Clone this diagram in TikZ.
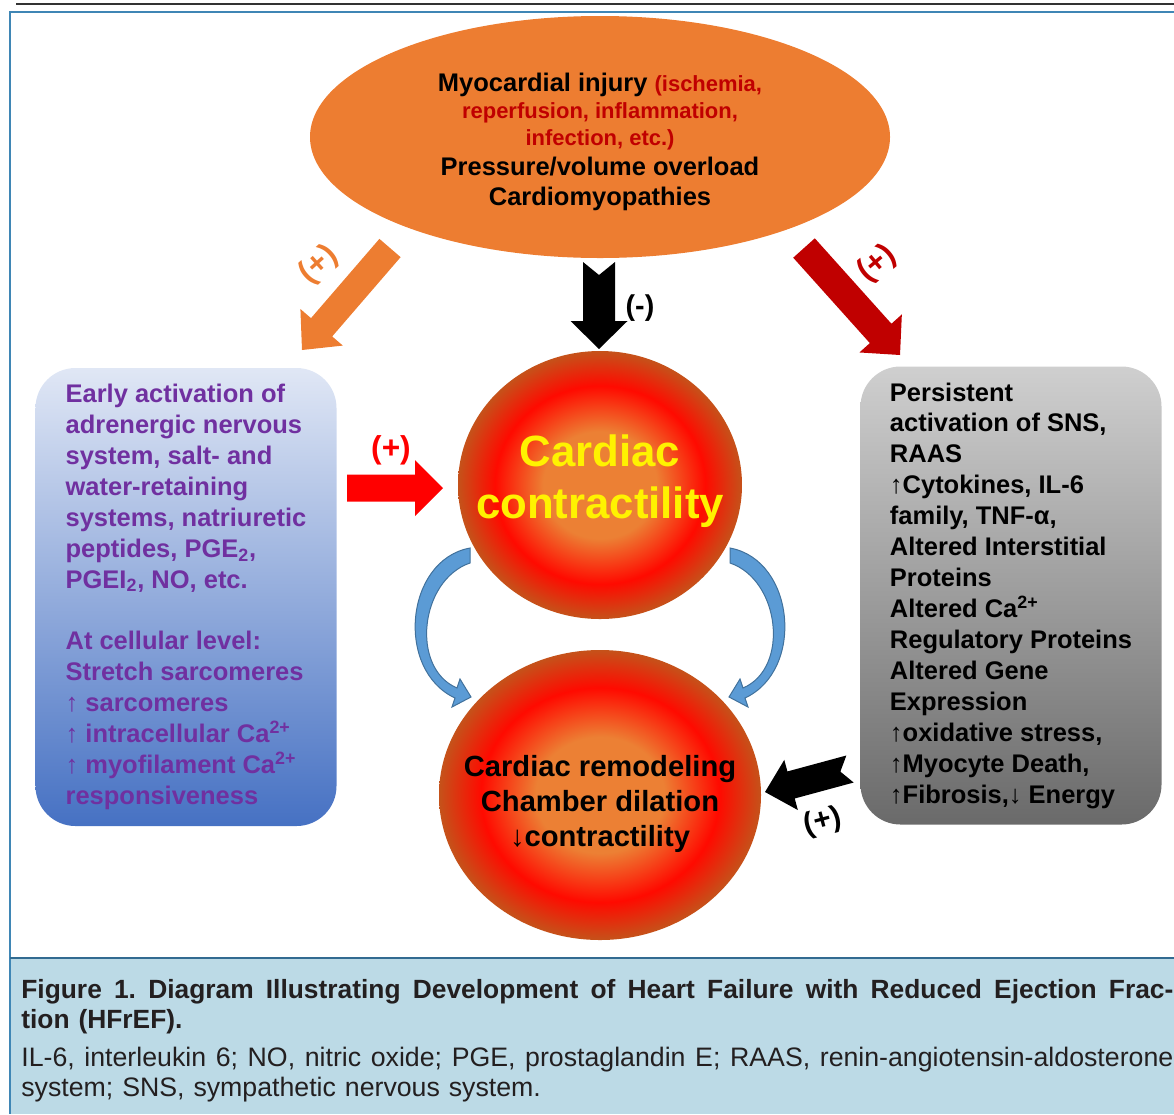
\documentclass[tikz,border=0pt]{standalone}
\usepackage{fontspec}
\setmainfont{Liberation Sans}
\usetikzlibrary{shapes.geometric,calc}
\frenchspacing

\definecolor{injorange}{HTML}{ED7D31}
\definecolor{injred}{HTML}{C00000}
\definecolor{earlypurple}{HTML}{7030A0}
\definecolor{earlytop}{HTML}{E0E7F5}
\definecolor{earlybot}{HTML}{4671C3}
\definecolor{persisttop}{HTML}{CFCFCF}
\definecolor{persistbot}{HTML}{6A6A6A}
\definecolor{orbcore}{HTML}{EC8034}
\definecolor{orbred}{HTML}{FF0A00}
\definecolor{orbedge}{HTML}{C5521A}
\definecolor{bendfill}{HTML}{5B9BD5}
\definecolor{benddraw}{HTML}{41719C}
\definecolor{capbg}{HTML}{BCDAE6}
\definecolor{frameblue}{HTML}{3F86B5}
\definecolor{captext}{HTML}{231F20}
\definecolor{hairline}{HTML}{333333}

\pgfdeclareradialshading{orb}{\pgfpointorigin}{color(0bp)=(orbcore); color(10bp)=(orbcore); color(18.5bp)=(orbred); color(25bp)=(orbedge); color(50bp)=(orbedge)}

% block arrow: style, tail, tip, half shaft, half head, head length, notch
\newcommand{\fatarrow}[7]{%
  \coordinate (hb) at ($(#3)!#6!(#2)$);
  \fill[#1] ($(#2)!#4!90:(#3)$) -- ($(hb)!#4!90:(#3)$) -- ($(hb)!#5!90:(#3)$) -- (#3)
    -- ($(hb)!#5!-90:(#3)$) -- ($(hb)!#4!-90:(#3)$) -- ($(#2)!#4!-90:(#3)$)
    -- ($(#2)!#7!(#3)$) -- cycle;
}
\newcommand{\injnote}[1]{\textcolor{injred}{\fontsize{12.5}{15.4}\selectfont #1}}
\newcommand{\fullline}[2]{\leavevmode\hbox to 230.4mm{#1\spaceskip=0.278em plus 1fil\relax #2}}

\begin{document}
\begin{tikzpicture}[x=0.2mm,y=-0.2mm,
    injbox/.style={ellipse, fill=injorange, minimum width=116mm, minimum height=48.4mm, inner sep=0pt},
    injtext/.style={align=center, inner sep=0pt, font=\bfseries\fontsize{14.5}{15.4}\selectfont},
    sidebox/.style={rounded corners=8mm, minimum width=60.2mm, minimum height=91.6mm, align=left, inner sep=0pt, font=\bfseries\fontsize{14.5}{17.6}\selectfont},
    orbnode/.style={ellipse, shading=orb, inner sep=0pt},
    orbtext/.style={align=center, inner sep=0pt},
    signlbl/.style={inner sep=0pt, font=\bfseries\fontsize{18}{18}\selectfont},
    bendarrow/.style={fill=bendfill, draw=benddraw, line width=0.2mm}]
	\useasboundingbox (0,0) rectangle (1174,1114);
	\draw[hairline, line width=0.4mm] (16,4) -- (1174,4);
	\fill[capbg] (10,958) rectangle (1174,1114);
	\draw[frameblue, line width=0.35mm] (1174,12) -- (10,12) -- (10,1114);
	\draw[frameblue!80!black, line width=0.3mm] (10,958) -- (1174,958);

	\node[injbox] (injury) at (600,137) {};
	\node[injtext] (injurytext) at (600,142) {Myocardial injury \injnote{(ischemia,}\\
		\injnote{reperfusion, inflammation,}\\
		\injnote{infection, etc.)}\\[1.7pt]
		Pressure/volume overload\\[1.7pt]
		Cardiomyopathies};

	\node[sidebox, top color=earlytop, bottom color=earlybot, text=earlypurple] (early) at (186,597) {Early activation of\\ adrenergic nervous\\ system, salt- and\\ water-retaining\\ systems, natriuretic\\ peptides, PGE\textsubscript{2},\\ PGEI\textsubscript{2}, NO, etc.\\[17.6pt] At cellular level:\\ Stretch sarcomeres\\ ↑ sarcomeres\\ ↑ intracellular Ca\textsuperscript{2+}\\ ↑ myofilament Ca\textsuperscript{2+}\\ responsiveness};
	\node[sidebox, top color=persisttop, bottom color=persistbot] (persist) at (1011,595.5) {Persistent\\ activation of SNS,\\ RAAS\\ ↑Cytokines, IL-6\\ family, TNF-α,\\ Altered Interstitial\\ Proteins\\ Altered Ca\textsuperscript{2+}\\ Regulatory Proteins\\ Altered Gene\\ Expression\\ ↑oxidative stress,\\ ↑Myocyte Death,\\ ↑Fibrosis,↓ Energy};

	\node[orbnode, minimum width=56.8mm, minimum height=53.6mm] (contract) at (600,485) {};
	\node[orbtext, text=yellow, font=\bfseries\fontsize{24.9}{29.6}\selectfont] (contracttext) at (600,481) {Cardiac\\ contractility};
	\node[orbnode, minimum width=64.4mm, minimum height=58mm] (remodel) at (600,795) {};
	\node[orbtext, font=\bfseries\fontsize{16.6}{19.9}\selectfont] (remodeltext) at (600,804) {Cardiac remodeling\\ Chamber dilation\\ ↓contractility};

	\coordinate (orgtail) at (390,248);
	\coordinate (orgtip) at (302,350);
	\coordinate (negtail) at (599,262);
	\coordinate (negtip) at (599,349);
	\coordinate (redtail) at (804,248);
	\coordinate (redtip) at (900,355);
	\coordinate (midtail) at (347,488);
	\coordinate (midtip) at (443,488);
	\coordinate (lowtail) at (850,769);
	\coordinate (lowtip) at (765,792);
	\fatarrow{injorange}{orgtail}{orgtip}{2.8mm}{5.6mm}{6mm}{0mm}
	\fatarrow{black}{negtail}{negtip}{3.2mm}{5.7mm}{5.6mm}{2.6mm}
	\fatarrow{injred}{redtail}{redtip}{2.9mm}{5.7mm}{5.8mm}{0mm}
	\fatarrow{red}{midtail}{midtip}{2.7mm}{5.6mm}{5.6mm}{0mm}
	\fatarrow{black}{lowtail}{lowtip}{2.8mm}{5.2mm}{5.4mm}{2mm}

	\draw[bendarrow] (470,548) .. controls (405,560) and (395,670) .. (455,698) -- (452,707) -- (471,697) -- (460,679) -- (457,688) .. controls (410,668) and (420,580) .. (470,563) -- cycle;
	\draw[bendarrow] (730,548) .. controls (795,560) and (805,670) .. (745,698) -- (748,707) -- (729,697) -- (740,679) -- (743,688) .. controls (790,668) and (780,580) .. (730,563) -- cycle;

	\node[signlbl, text=injorange, rotate=42] (plusorg) at (319,265) {(+)};
	\node[signlbl, font=\bfseries\fontsize{16.3}{16.3}\selectfont] (minus) at (640,308) {(-)};
	\node[signlbl, text=injred, rotate=40] (plusred) at (877,264) {(+)};
	\node[signlbl, text=red] (plusmid) at (391,450) {(+)};
	\node[signlbl, rotate=15, font=\bfseries\fontsize{17}{17}\selectfont] (pluslow) at (823,822) {(+)};

	\node[anchor=north west, inner sep=0pt, text width=230.4mm, align=left, text=captext, font=\fontsize{15.2}{17.1}\selectfont] (caption) at (21,979) {\fullline{\fontsize{15}{17.1}\selectfont\bfseries}{Figure 1. Diagram Illustrating Development of Heart Failure with Reduced Ejection Frac-}\\ {\fontsize{15}{17.1}\selectfont\bfseries tion (HFrEF).}\\[4.5pt] \fullline{}{IL-6, interleukin 6; NO, nitric oxide; PGE, prostaglandin E; RAAS, renin-angiotensin-aldosterone}\\ system; SNS, sympathetic nervous system.};
\end{tikzpicture}
\end{document}
